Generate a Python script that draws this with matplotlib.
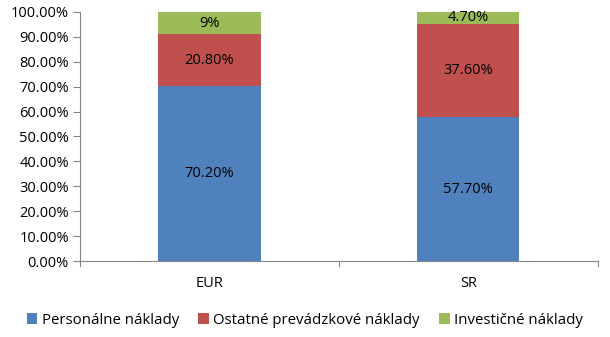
import matplotlib.pyplot as plt
import numpy as np

plt.rcParams['font.family'] = ['Open Sans', 'DejaVu Sans']

# data
categories = ['EUR', 'SR']
personalne = [70.2, 57.7]
ostatne = [20.8, 37.6]
investicne = [9.0, 4.7]
labels_p = ['70.20%', '57.70%']
labels_o = ['20.80%', '37.60%']
labels_i = ['9%', '4.70%']
series_names = ['Personálne náklady', 'Ostatné prevádzkové náklady', 'Investičné náklady']
colors = ['#4F81BD', '#C0504D', '#9BBB59']

fig = plt.figure(figsize=(6.10, 3.37), dpi=100)
ax = fig.add_axes([0.131, 0.2255, 0.849, 0.739])

x = np.arange(len(categories))
w = 0.395
bottom = np.zeros(len(categories))
for vals, labs, c, name in zip([personalne, ostatne, investicne],
                               [labels_p, labels_o, labels_i], colors, series_names):
    bars = ax.bar(x, vals, w, bottom=bottom, color=c, label=name)
    ax.bar_label(bars, labels=labs, label_type='center', fontsize=10.5, color='#000000')
    bottom += np.array(vals)

ax.set_xlim(-0.5, 1.5)
ax.set_ylim(0, 100)
ax.set_yticks(np.arange(0, 101, 10))
ax.set_yticklabels(['%.2f%%' % v for v in np.arange(0, 101, 10)], fontsize=10.5)
ax.set_xticks(x)
ax.set_xticklabels(categories, fontsize=10.5)
ax.tick_params(axis='x', length=0, pad=11)
ax.tick_params(axis='y', length=5, color='#868686', pad=3)
# category separator ticks
for xb in [-0.5, 0.5, 1.5]:
    ax.plot([xb, xb], [0, -2.2], color='#868686', lw=0.8, clip_on=False)

for s in ['top', 'right']:
    ax.spines[s].set_visible(False)
for s in ['left', 'bottom']:
    ax.spines[s].set_color('#868686')
    ax.spines[s].set_linewidth(0.8)

fig.legend(loc='center', bbox_to_anchor=(0.5, 0.05), ncol=3, frameon=False,
           fontsize=10.8, handlelength=0.7, handleheight=0.7, handletextpad=0.3,
           columnspacing=1.3)

fig.savefig('out.png', dpi=100)
